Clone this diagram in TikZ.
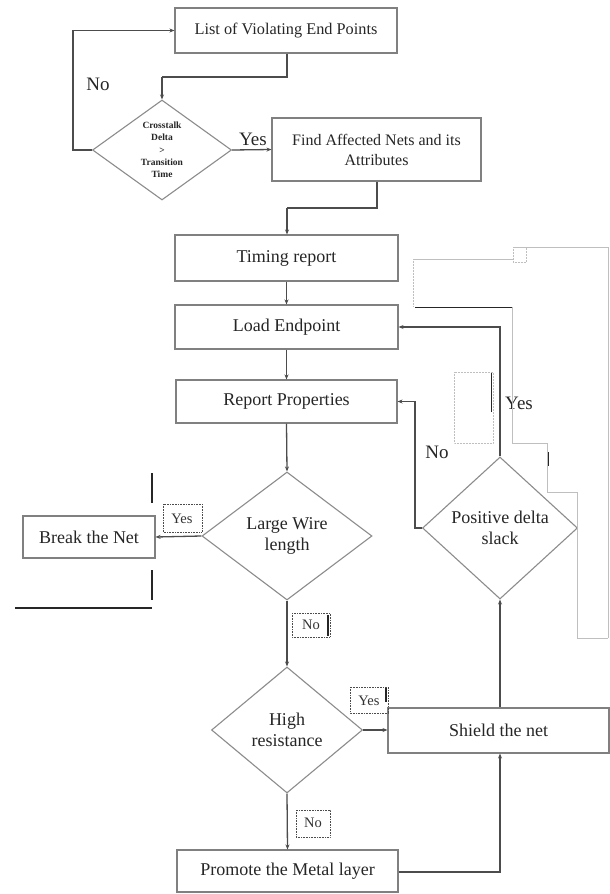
\documentclass[tikz,border=0pt]{standalone}
\usepackage{fontspec}
\setmainfont{Liberation Serif}
\usetikzlibrary{shapes.geometric,arrows.meta}
\begin{document}
\begin{tikzpicture}[x=1pt,y=-1pt,
  box/.style={draw=black!50,line width=1.1pt,fill=white,inner sep=2pt,align=center,font=\fontsize{18}{21}\selectfont,text=black!85},
  dia/.style={draw=black!45,line width=1.1pt,fill=white,diamond,inner sep=0pt,align=center,font=\fontsize{18}{21.5}\selectfont,text=black!85},
  conn/.style={draw=black!70,line width=1.3pt,-{Stealth[length=5pt,width=4pt]}},
  plainline/.style={draw=black!70,line width=1.3pt},
  lbl/.style={font=\fontsize{19}{21}\selectfont,text=black!85,inner sep=1pt},
  slbl/.style={font=\fontsize{14.5}{16}\selectfont,text=black!80,inner sep=1pt},
  dbox/.style={draw=black!70,densely dotted,line width=0.6pt},
  faint/.style={draw=black!25,line width=0.5pt},
  blk/.style={draw=black!85,line width=1.3pt}
]
\useasboundingbox (0,0) rectangle (610,894);

% nodes
\node[box,minimum width=222pt,minimum height=45pt,font=\fontsize{16.3}{19}\selectfont] (b1) at (286,30.5) {List of Violating End Points};
\node[dia,minimum width=139pt,minimum height=100pt,font=\bfseries\fontsize{9.5}{12.3}\selectfont] (d1) at (162,150) {Crosstalk\\Delta\\>\\Transition\\Time};
\node[box,minimum width=209pt,minimum height=63pt,font=\fontsize{16}{20}\selectfont] (b2) at (376.5,149.5) {Find Affected Nets and its\\Attributes};
\node[box,minimum width=223pt,minimum height=46pt] (tr) at (286.5,258) {Timing report};
\node[box,minimum width=223pt,minimum height=44pt] (le) at (286.5,327) {Load Endpoint};
\node[box,minimum width=221pt,minimum height=43pt] (rp) at (286.5,401.5) {Report Properties};
\node[dia,minimum width=170pt,minimum height=128pt] (lw) at (287,536) {Large Wire\\length};
\node[box,minimum width=132pt,minimum height=42pt] (bn) at (89,537) {Break the Net};
\node[dia,minimum width=151pt,minimum height=126pt] (hr) at (287,730) {High\\resistance};
\node[box,minimum width=221pt,minimum height=45pt] (sn) at (498.5,730.5) {Shield the net};
\node[box,minimum width=221pt,minimum height=42pt] (pm) at (287.5,871) {Promote the Metal layer};
\node[dia,minimum width=155pt,minimum height=142pt] (pd) at (500,528) {Positive delta\\slack};

% helper coordinates
\coordinate (c1a) at (287,77);
\coordinate (c1b) at (162,77);
\coordinate (c2a) at (73,150);
\coordinate (c2b) at (73,30.5);
\coordinate (c3a) at (377,208);
\coordinate (c3b) at (287,208);
\coordinate (c4) at (500,872);
\coordinate (c5) at (500,327);
\coordinate (c6a) at (415,528);
\coordinate (c6b) at (415,401.5);

% connectors
\draw[plainline] (b1.south -| c1a) -- (c1a) -- (c1b);
\draw[conn] (c1b) -- (d1.north);
\draw[conn] (d1.west) -- (c2a) -- (c2b) -- (b1.west);
\draw[conn] (d1.east) -- (b2.west);
\draw[plainline] (b2.south -| c3a) -- (c3a) -- (c3b);
\draw[conn] (c3b) -- (tr.north -| c3b);
\draw[conn] (tr.south) -- (le.north);
\draw[conn] (le.south) -- (rp.north);
\draw[conn] (rp.south) -- (lw.north);
\draw[conn] (lw.west) -- (bn.east);
\draw[conn] (lw.south) -- (hr.north);
\draw[conn] (hr.east) -- (sn.west |- hr.east);
\draw[conn] (hr.south) -- (pm.north);
\draw[conn] (pm.east |- c4) -- (c4) -- (sn.south -| c4);
\draw[conn] (sn.north -| pd.south) -- (pd.south);
\draw[conn] (pd.north) -- (c5) -- (le.east);
\draw[conn] (pd.west) -- (c6a) -- (c6b) -- (rp.east);

% labels
\node[lbl] (l1) at (98,84) {No};
\node[lbl] (l2) at (253,139) {Yes};
\node[lbl] (l3) at (519,403) {Yes};
\node[lbl] (l4) at (437,452) {No};
\node[slbl] (l5) at (182,519) {Yes};
\node[slbl] (l6) at (311,625) {No};
\node[slbl] (l7) at (369,701) {Yes};
\node[slbl] (l8) at (313,823) {No};

% dotted frames around small labels
\draw[dbox] (163,504) rectangle (202,532);
\draw[dbox] (292,613) rectangle (330,637);
\draw[dbox] (350,687) rectangle (388,713);
\draw[dbox] (296,810) rectangle (330,837);
\draw[blk] (328,615) -- (328,636);
\draw[blk] (386,688) -- (386,702);

% stray lines near Break the Net
\draw[blk] (152,473) -- (152,503);
\draw[blk] (152,570) -- (152,600);
\draw[blk] (15,608) -- (152,608);

% stray lines at top right
\draw[faint] (413,259) -- (513,259);
\draw[faint,densely dotted] (413,259) -- (413,307);
\draw[blk,line width=1pt] (415,307) -- (512,307);
\draw[faint] (512,307) -- (512,443) -- (547,443);
\draw[faint] (547,443) -- (547,492) -- (577,492);
\draw[blk,line width=1pt] (548,452) -- (548,466);
\draw[faint] (577,492) -- (577,638) -- (608,638);
\draw[faint] (513,247) -- (608,247) -- (608,638);
\draw[faint,densely dotted] (513,247) rectangle (526,262);
\draw[faint,densely dotted] (454,372) rectangle (493,443);
\draw[blk,line width=1pt] (491,373) -- (491,412);
\end{tikzpicture}
\end{document}
